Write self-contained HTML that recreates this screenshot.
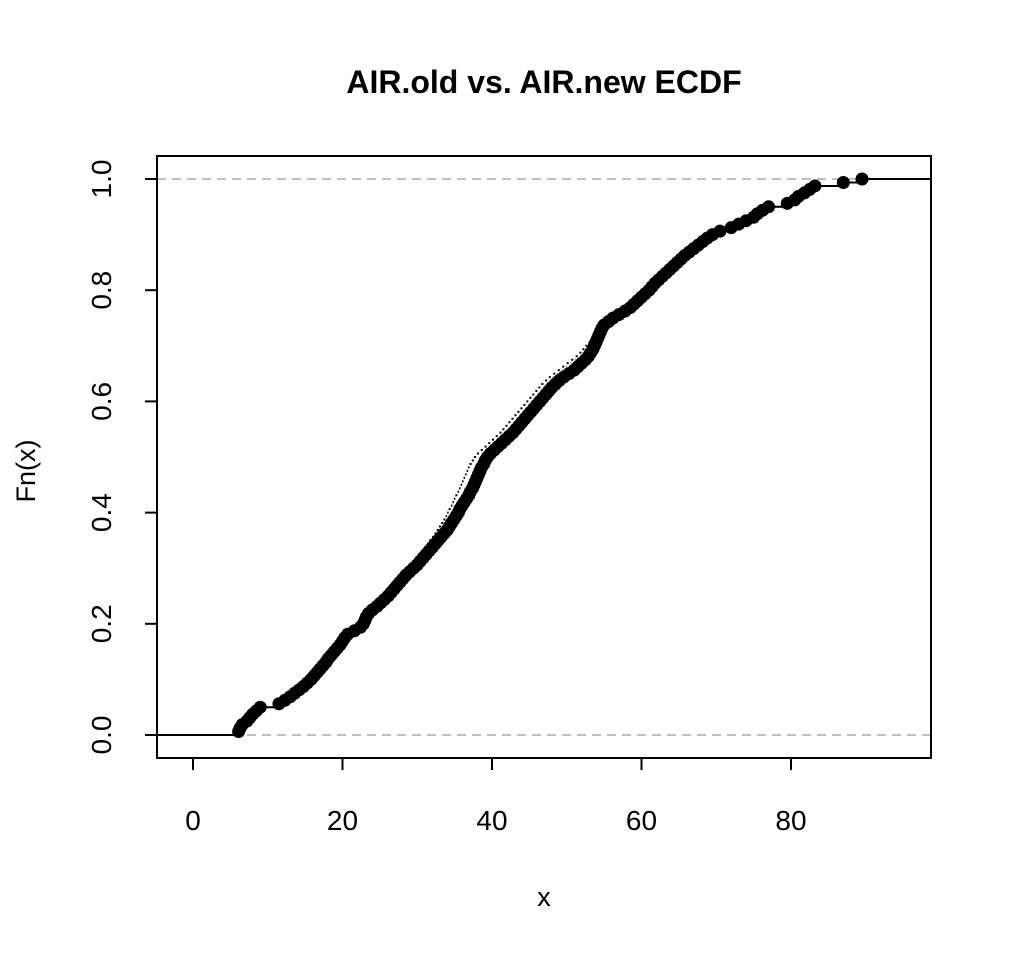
<!DOCTYPE html>
<html><head><meta charset="utf-8"><style>
html,body{margin:0;padding:0;background:#fff;}
svg text{font-family:"Liberation Sans",Arial,sans-serif;}
</style></head><body>
<svg id="chart" width="1012" height="954" xmlns="http://www.w3.org/2000/svg">
<rect x="0" y="0" width="1012" height="954" fill="#fff"/>
<text x="544" y="93" text-anchor="middle" font-size="32" font-weight="bold">AIR.old vs. AIR.new ECDF</text>
<text x="544" y="906" text-anchor="middle" font-size="27">x</text>
<text x="0" y="0" transform="translate(35,471) rotate(-90)" text-anchor="middle" font-size="27">Fn(x)</text>
<g id="plot"></g>
<rect x="157" y="156" width="774" height="602" fill="none" stroke="#000" stroke-width="2"/>
</svg>
<script>
const xTicks = [0, 20, 40, 60, 80];
const yTicks = [0, 0.2, 0.4, 0.6, 0.8, 1.0];
const yTickLabels = ["0.0", "0.2", "0.4", "0.6", "0.8", "1.0"];
const newValues = [6.1,6.3,6.6,7.2,7.6,8.0,8.5,9.0,11.5,12.3,
13.0,13.6,14.2,14.8,15.3,15.8,16.2,16.6,17.0,17.4,
17.8,18.1,18.5,18.9,19.3,19.7,20.0,20.3,20.7,21.6,
22.4,22.8,23.0,23.2,23.5,24.0,24.6,25.1,25.6,26.1,
26.5,26.9,27.3,27.7,28.1,28.5,29.0,29.5,30.0,30.4,
30.8,31.2,31.6,32.0,32.4,32.8,33.2,33.6,34.0,34.3,
34.6,34.9,35.2,35.5,35.7,36.0,36.3,36.6,36.9,37.1,
37.4,37.6,37.8,38.0,38.2,38.4,38.6,38.9,39.1,39.4,
39.8,40.3,40.8,41.3,41.8,42.3,42.8,43.2,43.6,44.0,
44.4,44.8,45.2,45.6,46.0,46.4,46.8,47.2,47.6,48.0,
48.5,49.0,49.6,50.3,51.0,51.5,52.0,52.5,52.9,53.2,
53.5,53.7,53.9,54.1,54.3,54.5,54.7,55.0,55.6,56.2,
57.0,57.8,58.5,59.0,59.5,60.0,60.5,61.0,61.4,61.8,
62.3,62.8,63.3,63.8,64.3,64.8,65.3,65.8,66.4,67.0,
67.6,68.2,68.8,69.5,70.5,72.0,73.0,74.0,75.0,75.5,
76.2,77.0,79.5,80.5,81.0,81.8,82.5,83.2,87.0,89.5];
const oldValues = [6.0,6.2,6.5,7.0,7.5,7.9,8.4,8.9,11.3,12.1,12.8,13.4,14.0,14.6,15.1,15.6,16.0,16.4,16.8,17.2,
17.6,17.9,18.3,18.7,19.1,19.5,19.8,20.1,20.5,21.3,22.1,22.5,22.8,23.0,23.3,23.8,24.3,24.8,25.3,25.8,
26.1,26.5,26.9,27.3,27.7,28.0,28.4,28.8,29.2,29.5,29.9,30.3,30.7,31.0,31.3,31.6,32.0,32.3,32.6,32.9,
33.2,33.5,33.8,34.0,34.2,34.5,34.7,34.9,35.1,35.4,35.6,35.8,36.0,36.2,36.4,36.6,36.8,37.0,37.3,37.6,
38.0,38.5,39.0,39.5,40.0,40.5,41.0,41.4,41.8,42.2,42.6,43.0,43.4,43.8,44.2,44.6,45.0,45.4,45.8,46.2,
46.6,47.1,47.6,48.2,48.8,49.4,50.0,50.6,51.2,51.7,52.1,52.5,52.9,53.2,53.5,53.8,54.1,54.5,55.0,55.5,
56.2,57.0,57.7,58.3,58.8,59.3,59.8,60.2,60.6,61.0,61.5,62.0,62.5,63.0,63.5,64.0,64.5,65.0,65.5,66.0,
66.6,67.2,67.8,68.5,69.5,71.0,72.2,73.3,74.4,75.0,75.8,76.6,79.0,80.2,80.8,81.6,82.3,83.0,86.5,89.0];

const X0=157, X1=931, Y0=156, Y1=758;
const sx = v => 193 + v*(791-193)/80;
const sy = v => 735 - v*(735-179);
const ns="http://www.w3.org/2000/svg";
const svg=document.getElementById('chart');
const plot=document.getElementById('plot');
function mk(tag, attrs, parent){const e=document.createElementNS(ns,tag);for(const k in attrs)e.setAttribute(k,attrs[k]);(parent||svg).appendChild(e);return e;}

[0,1].forEach(v=>{
  const l=mk('line',{x1:X0,x2:X1,y1:sy(v),y2:sy(v),stroke:'#aaa','stroke-width':1.5,'stroke-dasharray':'9,6'},plot);
  
  
});

function stepPath(vals){
  const n=vals.length; let d=`M${X0},${sy(0)} L${sx(vals[0])},${sy(0)}`;
  for(let i=0;i<n;i++){
    const f=(i+1)/n; const xe = i<n-1? sx(vals[i+1]) : X1;
    d+=` M${sx(vals[i])},${sy(f)} L${xe},${sy(f)}`;
  }
  return d;
}
const oldP=mk('path',{d:stepPath(oldValues),fill:'none',stroke:'#000','stroke-width':2,'stroke-dasharray':'2,2'},plot);


const newP=mk('path',{d:stepPath(newValues),fill:'none',stroke:'#000','stroke-width':2},plot);


newValues.forEach((v,i)=>{
  const c=mk('circle',{cx:sx(v),cy:sy((i+1)/newValues.length),r:6.5,fill:'#000'},plot);
  
  
});

const xa=mk('g',{});


mk('line',{x1:sx(0),x2:sx(80),y1:Y1,y2:Y1,stroke:'#000','stroke-width':2},xa);
xTicks.forEach(t=>{
  mk('line',{x1:sx(t),x2:sx(t),y1:Y1,y2:Y1+12,stroke:'#000','stroke-width':2},xa);
  const tx=mk('text',{x:sx(t),y:830,'text-anchor':'middle','font-size':28},xa);
  tx.textContent=t;
  
  
});
const ya=mk('g',{});


mk('line',{x1:X0,x2:X0,y1:sy(0),y2:sy(1),stroke:'#000','stroke-width':2},ya);
yTicks.forEach((t,i)=>{
  mk('line',{x1:X0-12,x2:X0,y1:sy(t),y2:sy(t),stroke:'#000','stroke-width':2},ya);
  const tx=mk('text',{x:0,y:0,transform:`translate(111,${sy(t)}) rotate(-90)`,'text-anchor':'middle','font-size':28},ya);
  tx.textContent=yTickLabels[i];
  
  
});
</script>
</body></html>
